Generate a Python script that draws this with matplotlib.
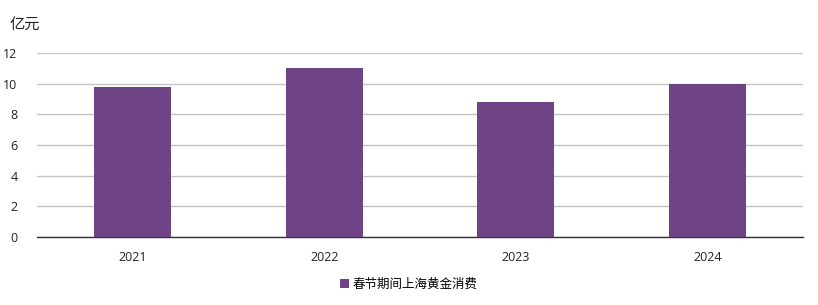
import matplotlib.pyplot as plt
import numpy as np

plt.rcParams['font.family'] = ['Open Sans', 'Noto Sans CJK SC', 'DejaVu Sans']

years = ['2021', '2022', '2023', '2024']
consumption = [9.8, 11.0, 8.8, 10.0]
series_name = '春节期间上海黄金消费'
unit = '亿元'

fig = plt.figure(figsize=(8.18, 3.05), dpi=100)
ax = fig.add_axes([37/818, 68/305, 766/818, 184/305])

x = np.arange(len(years))
ax.bar(x, consumption, width=0.4, color='#6f4486', label=series_name, zorder=3)

ax.set_xlim(-0.5, len(years) - 0.5)
ax.set_ylim(0, 12)
ax.set_yticks(range(0, 13, 2))
ax.set_xticks(x)
ax.set_xticklabels(years)
ax.tick_params(axis='both', length=0, labelsize=9, colors='#222222')
ax.tick_params(axis='x', pad=10)
ax.tick_params(axis='y', pad=14)
ax.grid(axis='y', color='#c4c4c4', linewidth=1, zorder=0)
for s in ['top', 'right', 'left']:
    ax.spines[s].set_visible(False)
ax.spines['bottom'].set_color('#333333')
ax.spines['bottom'].set_linewidth(1)

fig.text(10/818, 1 - 25/305, unit, fontsize=11, va='center', ha='left', color='#222222')

fig.legend(loc='center', bbox_to_anchor=(0.5, 1 - 284/305), frameon=False, fontsize=9,
           handlelength=0.7, handleheight=0.7, handletextpad=0.3)

fig.savefig('out.png', dpi=100)
